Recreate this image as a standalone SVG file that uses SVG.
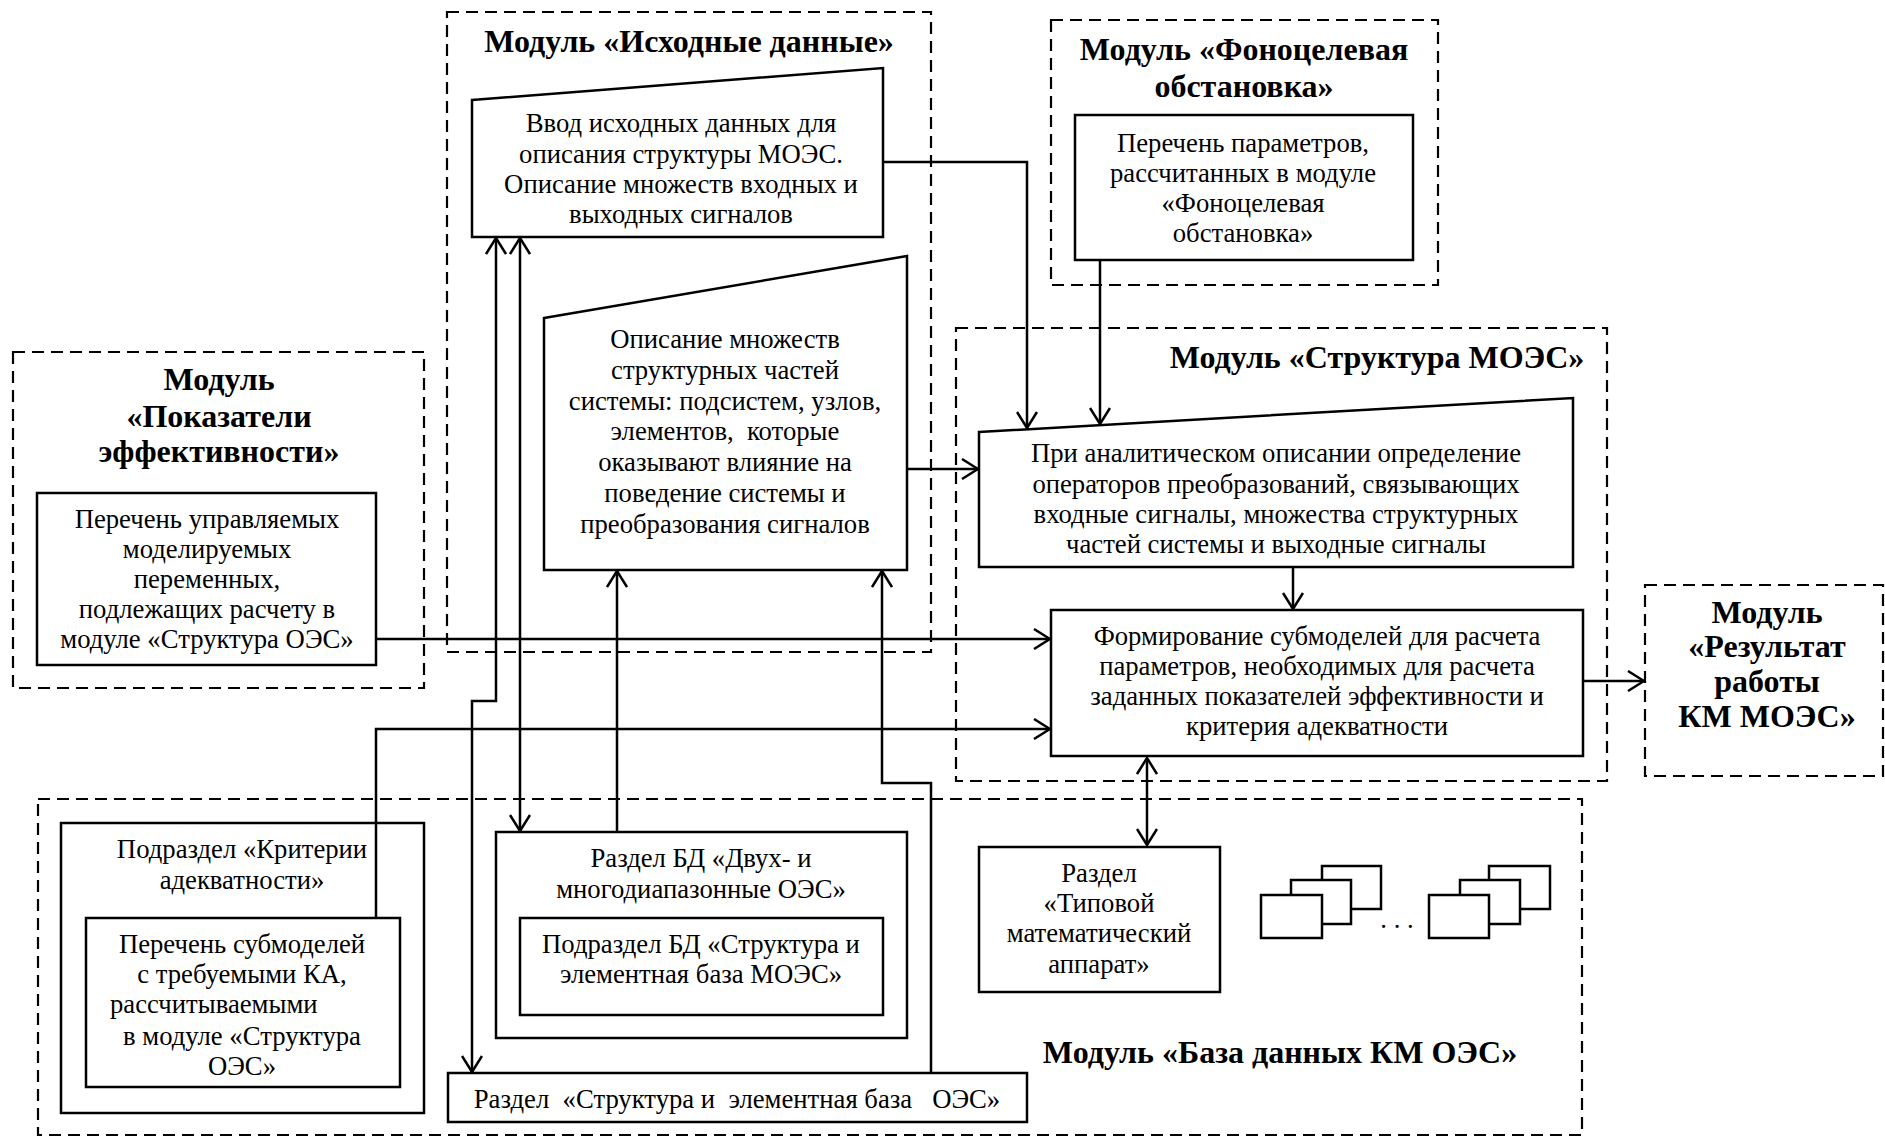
<svg xmlns="http://www.w3.org/2000/svg" width="1885" height="1137" viewBox="0 0 1885 1137">
<defs>
<style>
text{font-family:"Liberation Serif","Times New Roman",serif;fill:#000}
.t{font-size:26.7px;text-anchor:middle}
.h{font-size:32px;font-weight:bold;text-anchor:middle}
.box{fill:#fff;stroke:#000;stroke-width:2.5}
.dash{fill:none;stroke:#000;stroke-width:2.2;stroke-dasharray:12 7}
.con{fill:none;stroke:#000;stroke-width:2.5}
.arr{marker-end:url(#ah)}
.dbl{marker-start:url(#ah);marker-end:url(#ah)}
</style>
<marker id="ah" viewBox="0 0 18 22" refX="17" refY="11" markerWidth="18" markerHeight="22" orient="auto-start-reverse" markerUnits="userSpaceOnUse">
<path d="M1,1 L17,11 L1,21" fill="none" stroke="#000" stroke-width="2.5"/>
</marker>
</defs>
<rect width="1885" height="1137" fill="#fff"/>

<g id="module-ishodnye">
<rect class="dash" x="447" y="12" width="484" height="640"/>
<text class="h" x="689" y="52">Модуль «Исходные данные»</text>
</g>
<g id="node-vvod">
<polygon class="box" points="472,100 883,68 883,237 472,237"/>
<text class="t" x="681" y="132">Ввод исходных данных для</text>
<text class="t" x="681" y="163">описания структуры МОЭС.</text>
<text class="t" x="681" y="193">Описание множеств входных и</text>
<text class="t" x="681" y="223">выходных сигналов</text>
</g>
<g id="node-opisanie">
<polygon class="box" points="544,318 907,256 907,570 544,570"/>
<text class="t" x="725" y="348">Описание множеств</text>
<text class="t" x="725" y="379">структурных частей</text>
<text class="t" x="725" y="410">системы: подсистем, узлов,</text>
<text class="t" x="725" y="440" style="white-space:pre">элементов,  которые</text>
<text class="t" x="725" y="471">оказывают влияние на</text>
<text class="t" x="725" y="502">поведение системы и</text>
<text class="t" x="725" y="533">преобразования сигналов</text>
</g>

<g id="module-pokazateli">
<rect class="dash" x="13" y="352" width="411" height="336"/>
<text class="h" x="219" y="390">Модуль</text>
<text class="h" x="219" y="427">«Показатели</text>
<text class="h" x="219" y="462">эффективности»</text>
</g>
<g id="node-perechen-upr">
<rect class="box" x="37" y="493" width="339" height="172"/>
<text class="t" x="207" y="528">Перечень управляемых</text>
<text class="t" x="207" y="558">моделируемых</text>
<text class="t" x="207" y="588">переменных,</text>
<text class="t" x="207" y="618">подлежащих расчету в</text>
<text class="t" x="207" y="648">модуле «Структура ОЭС»</text>
</g>

<g id="module-fono">
<rect class="dash" x="1051" y="20" width="387" height="265"/>
<text class="h" x="1244" y="60">Модуль «Фоноцелевая</text>
<text class="h" x="1244" y="97">обстановка»</text>
</g>
<g id="node-perechen-param">
<rect class="box" x="1075" y="115" width="338" height="145"/>
<text class="t" x="1243" y="152">Перечень параметров,</text>
<text class="t" x="1243" y="182">рассчитанных в модуле</text>
<text class="t" x="1243" y="212">«Фоноцелевая</text>
<text class="t" x="1243" y="242">обстановка»</text>
</g>

<g id="module-struktura">
<rect class="dash" x="956" y="328" width="651" height="453"/>
<text class="h" x="1377" y="368">Модуль «Структура МОЭС»</text>
</g>
<g id="node-analit">
<polygon class="box" points="979,432 1573,398 1573,567 979,567"/>
<text class="t" x="1276" y="462">При аналитическом описании определение</text>
<text class="t" x="1276" y="493">операторов преобразований, связывающих</text>
<text class="t" x="1276" y="523">входные сигналы, множества структурных</text>
<text class="t" x="1276" y="553">частей системы и выходные сигналы</text>
</g>
<g id="node-formirovanie">
<rect class="box" x="1051" y="610" width="532" height="146"/>
<text class="t" x="1317" y="645">Формирование субмоделей для расчета</text>
<text class="t" x="1317" y="675">параметров, необходимых для расчета</text>
<text class="t" x="1317" y="705">заданных показателей эффективности и</text>
<text class="t" x="1317" y="735">критерия адекватности</text>
</g>

<g id="module-rezultat">
<rect class="dash" x="1645" y="585" width="238" height="191"/>
<text class="h" x="1767" y="623">Модуль</text>
<text class="h" x="1767" y="657">«Результат</text>
<text class="h" x="1767" y="692">работы</text>
<text class="h" x="1767" y="727">КМ МОЭС»</text>
</g>

<g id="module-baza">
<rect class="dash" x="38" y="799" width="1544" height="336"/>
<text class="h" x="1280" y="1063">Модуль «База данных КМ ОЭС»</text>
</g>
<g id="node-kriterii">
<rect class="box" x="61" y="823" width="363" height="290"/>
<text class="t" x="242" y="858">Подраздел «Критерии</text>
<text class="t" x="242" y="889">адекватности»</text>
</g>
<g id="node-perechen-sub">
<rect class="box" x="86" y="918" width="314" height="169"/>
<text class="t" x="242" y="953">Перечень субмоделей</text>
<text class="t" x="242" y="983">с требуемыми КА,</text>
<text class="t" x="110" y="1013" style="text-anchor:start">рассчитываемыми</text>
<text class="t" x="242" y="1045">в модуле «Структура</text>
<text class="t" x="242" y="1075">ОЭС»</text>
</g>
<g id="node-razdel-dvuh">
<rect class="box" x="496" y="832" width="411" height="206"/>
<text class="t" x="701" y="867">Раздел БД «Двух- и</text>
<text class="t" x="701" y="898">многодиапазонные ОЭС»</text>
</g>
<g id="node-podrazdel-moes">
<rect class="box" x="520" y="918" width="363" height="97"/>
<text class="t" x="701" y="953">Подраздел БД «Структура и</text>
<text class="t" x="701" y="983">элементная база МОЭС»</text>
</g>
<g id="node-razdel-oes">
<rect class="box" x="448" y="1073" width="579" height="49"/>
<text class="t" x="737" y="1108" style="white-space:pre">Раздел  «Структура и  элементная база   ОЭС»</text>
</g>
<g id="node-tipovoy">
<rect class="box" x="979" y="847" width="241" height="145"/>
<text class="t" x="1099" y="882">Раздел</text>
<text class="t" x="1099" y="912">«Типовой</text>
<text class="t" x="1099" y="942">математический</text>
<text class="t" x="1099" y="973">аппарат»</text>
</g>
<g id="node-stack1">
<rect class="box" x="1322" y="866" width="59" height="43"/>
<rect class="box" x="1291" y="880" width="60" height="44"/>
<rect class="box" x="1261" y="895" width="61" height="43"/>
</g>
<g id="node-dots">
<text class="t" x="1397" y="928">. . .</text>
</g>
<g id="node-stack2">
<rect class="box" x="1489" y="866" width="61" height="43"/>
<rect class="box" x="1460" y="880" width="60" height="44"/>
<rect class="box" x="1429" y="895" width="60" height="43"/>
</g>

<g id="connectors">
<polyline class="con arr" points="883,162 1027,162 1027,428"/>
<polyline class="con arr" points="1100,260 1100,424"/>
<polyline class="con arr" points="907,469 978,469"/>
<polyline class="con arr" points="1293,567 1293,609"/>
<polyline class="con arr" points="376,639 1050,639"/>
<polyline class="con arr" points="376,918 376,729 1050,729"/>
<polyline class="con arr" points="1583,681 1644,681"/>
<polyline class="con dbl" points="1147,758 1147,845"/>
<polyline class="con dbl" points="496,238 496,701 472,701 472,1072"/>
<polyline class="con dbl" points="520,238 520,831"/>
<polyline class="con arr" points="617,832 617,571"/>
<polyline class="con arr" points="931,1073 931,783 882,783 882,571"/>
</g>
</svg>
